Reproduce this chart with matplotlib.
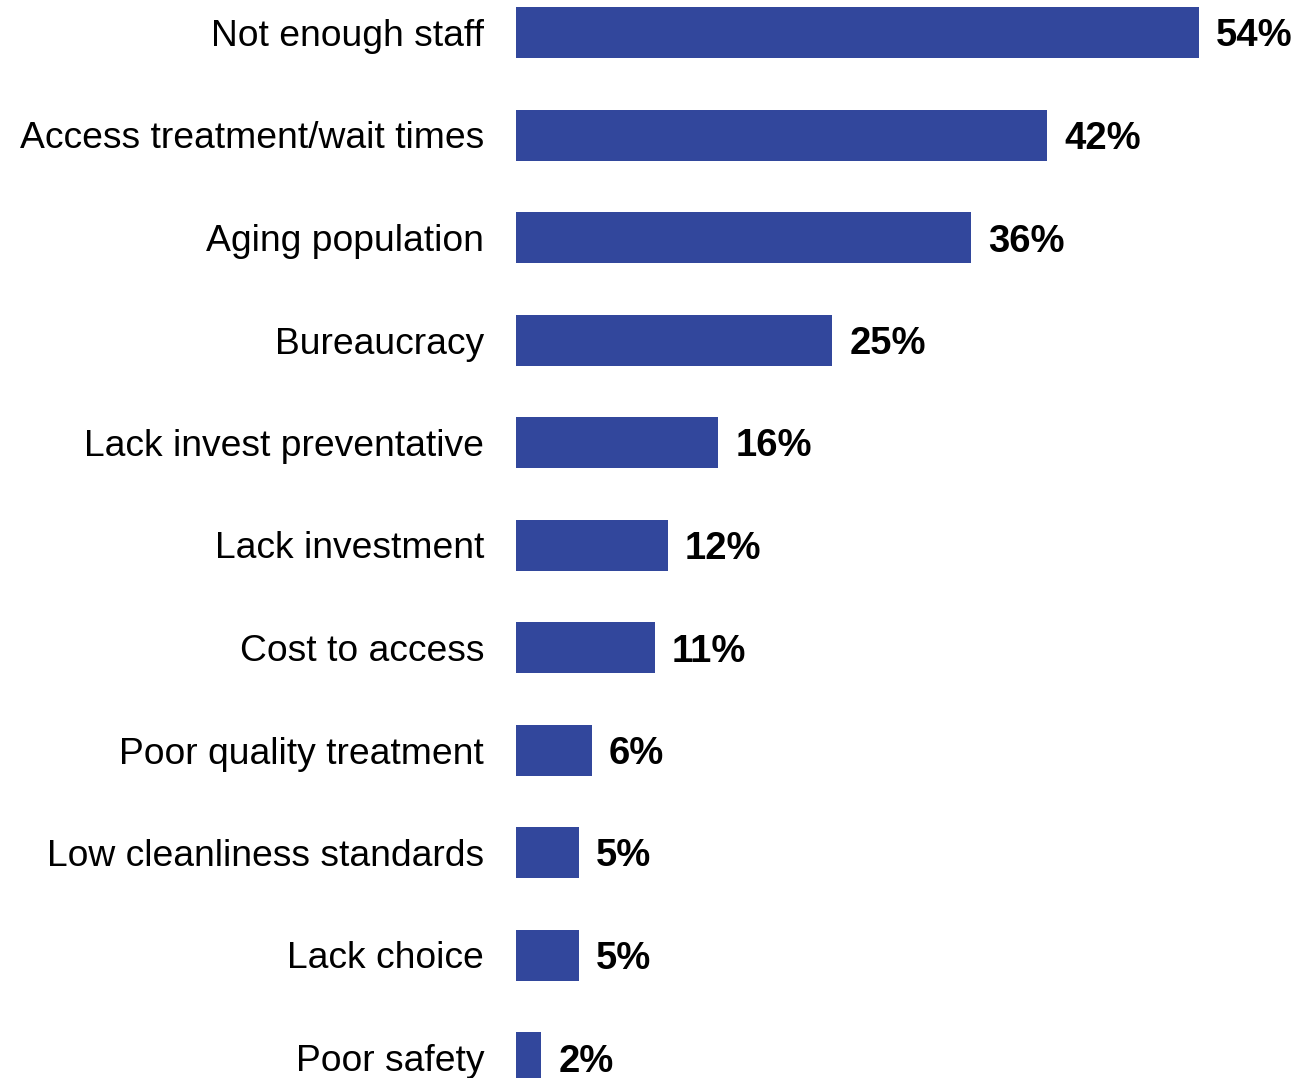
import matplotlib
matplotlib.use("Agg")
import matplotlib.pyplot as plt

plt.rcParams['font.family'] = ['Liberation Sans', 'DejaVu Sans']

categories = [
    "Not enough staff",
    "Access treatment/wait times",
    "Aging population",
    "Bureaucracy",
    "Lack invest preventative",
    "Lack investment",
    "Cost to access",
    "Poor quality treatment",
    "Low cleanliness standards",
    "Lack choice",
    "Poor safety",
]
values = [54, 42, 36, 25, 16, 12, 11, 6, 5, 5, 2]

bar_color = "#32479C"

W, H, DPI = 1315, 1078, 100
fig = plt.figure(figsize=(W / DPI, H / DPI), dpi=DPI)
left_px = 516
ax = fig.add_axes([left_px / W, 0, 1 - left_px / W, 1])

px_per_unit = 12.65
spacing = 102.5
first_center = 32.5
ax.set_xlim(0, (W - left_px) / px_per_unit)
ax.set_ylim((H - first_center) / spacing, -first_center / spacing)

ypos = list(range(len(categories)))
ax.barh(ypos, values, height=51 / spacing, color=bar_color, edgecolor="none")

for y, v in zip(ypos, values):
    ax.annotate(f"{v}%", xy=(v, y), xytext=(12.2, 0), textcoords="offset points",
                ha="left", va="center_baseline", fontsize=27.5, fontweight="bold",
                color="black", annotation_clip=False)

ax.set_yticks(ypos)
ax.set_yticklabels(categories, fontsize=26.8)
ax.tick_params(axis="y", length=0, pad=23)
ax.set_xticks([])
for s in ax.spines.values():
    s.set_visible(False)

fig.savefig("out.png", dpi=DPI)
